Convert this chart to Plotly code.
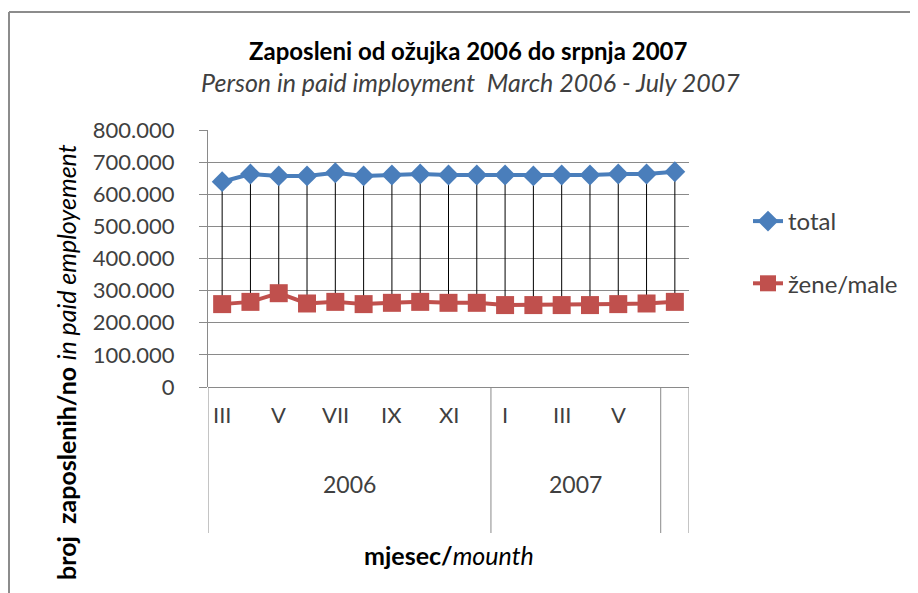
import plotly.graph_objects as go

months = ["III", "IV", "V", "VI", "VII", "VIII", "IX", "X", "XI", "XII",
          "I", "II", "III", "IV", "V", "VI", "VII"]
year_groups = ["2006", "2007", ""]
year_counts = [10, 6, 1]
total = [639000, 663000, 657000, 657000, 667000, 657000, 660000, 663000, 660000,
         660000, 660000, 657000, 660000, 660000, 663000, 663000, 670000]
zene = [258000, 265000, 292000, 260000, 265000, 258000, 262000, 265000, 262000,
        262000, 255000, 255000, 255000, 255000, 258000, 260000, 265000]

x = list(range(len(months)))
FONT = "Lato"
GRAY = "#8a8a8a"
TXT = "#404040"

fig = go.Figure()

# high-low lines
hx, hy = [], []
for i in x:
    hx += [i, i, None]
    hy += [zene[i], total[i], None]
fig.add_trace(go.Scatter(x=hx, y=hy, mode="lines", line=dict(color="black", width=1),
                         showlegend=False, hoverinfo="skip"))

fig.add_trace(go.Scatter(x=x, y=total, name="total", mode="lines+markers",
                         legendgroup="a",
                         line=dict(color="#4A7EBB", width=4),
                         marker=dict(symbol="diamond", size=16, color="#4A7EBB")))
fig.add_trace(go.Scatter(x=x, y=zene, name="žene/male", mode="lines+markers",
                         legendgroup="b",
                         line=dict(color="#C0504D", width=4),
                         marker=dict(symbol="square", size=18, color="#C0504D")))

OFF = 8  # page body offset
W, H = 918, 593
L = 208 - OFF
T = 130 - OFF
R = W - (689 - OFF)
B = H - (387 - OFF)
pw, ph = W - L - R, H - T - B

def px(xs):
    return (xs - OFF - L) / pw

def py(ys):
    return (H - B - (ys - OFF)) / ph

shapes = []
# multi-level category separators
edges = [-0.5]
for c in year_counts:
    edges.append(edges[-1] + c)
for e in edges:
    shapes.append(dict(type="line", xref="x", yref="paper", x0=e, x1=e,
                       y0=0, y1=py(533), line=dict(color=GRAY, width=1)))
# chart border
shapes.append(dict(type="line", xref="paper", yref="paper", x0=px(9), x1=px(9),
                   y0=py(620), y1=py(12), line=dict(color="#8c8c8c", width=2)))
shapes.append(dict(type="line", xref="paper", yref="paper", x0=px(9), x1=px(940),
                   y0=py(12), y1=py(12), line=dict(color="#8c8c8c", width=2)))

annotations = []
for i in range(0, 15, 2):
    annotations.append(dict(x=i, y=py(430), xref="x", yref="paper", text=months[i],
                            showarrow=False, font=dict(family=FONT, size=22, color=TXT)))
start = -0.5
for g, c in zip(year_groups, year_counts):
    if g:
        annotations.append(dict(x=start + c / 2, y=py(500), xref="x", yref="paper", text=g,
                                showarrow=False, font=dict(family=FONT, size=23, color=TXT)))
    start += c

annotations.append(dict(x=px(449), y=py(555), xref="paper", yref="paper",
                        xanchor="center", yanchor="middle",
                        text="<b>mjesec/</b><i>mounth</i>", showarrow=False,
                        font=dict(family=FONT, size=25, color="black")))
annotations.append(dict(x=px(66), y=py(362), xref="paper", yref="paper", textangle=-90,
                        xanchor="center", yanchor="middle",
                        text="<b>broj  zaposlenih/no</b> <i>in paid employement</i>",
                        showarrow=False, font=dict(family=FONT, size=25, color="black")))
annotations.append(dict(x=px(468), y=py(50), xref="paper", yref="paper",
                        xanchor="center", yanchor="middle",
                        text="<b>Zaposleni od ožujka 2006 do srpnja 2007</b>",
                        showarrow=False, font=dict(family=FONT, size=24, color="black")))
annotations.append(dict(x=px(470), y=py(82), xref="paper", yref="paper",
                        xanchor="center", yanchor="middle",
                        text="<i>Person in paid imployment  March 2006 - July 2007</i>",
                        showarrow=False, font=dict(family=FONT, size=25, color=TXT)))

fig.update_layout(
    width=W, height=H,
    margin=dict(l=L, r=R, t=T, b=B, pad=0),
    paper_bgcolor="white", plot_bgcolor="white",
    separators=",.",
    font=dict(family=FONT, size=22, color=TXT),
    shapes=shapes, annotations=annotations,
    legend=dict(x=px(748), y=py(199), xanchor="left", yanchor="top",
                font=dict(family=FONT, size=24, color=TXT),
                tracegroupgap=28, bgcolor="rgba(0,0,0,0)"),
    xaxis=dict(range=[-0.5, 16.5], showgrid=False, showticklabels=False,
               zeroline=False, showline=False, ticks=""),
    yaxis=dict(range=[0, 800000], dtick=100000, tickformat=",.0f",
               showgrid=True, gridcolor=GRAY, gridwidth=1,
               zeroline=True, zerolinecolor=GRAY, zerolinewidth=1,
               showline=True, linecolor=GRAY, linewidth=1,
               ticks="outside", ticklen=8, tickcolor=GRAY,
               ticklabelstandoff=20,
               tickfont=dict(family=FONT, size=22, color=TXT)),
)

fig.write_html("out.html")
